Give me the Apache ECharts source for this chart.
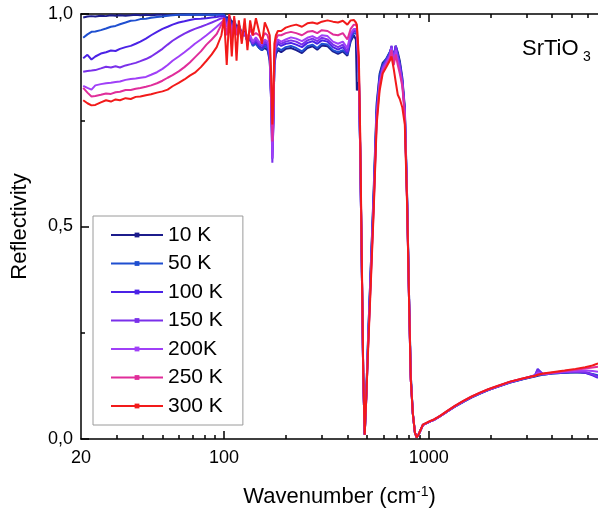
<!DOCTYPE html>
<html>
<head>
<meta charset="utf-8">
<script src="https://cdn.jsdelivr.net/npm/echarts@6/dist/echarts.min.js"></script>
<style>html,body{margin:0;padding:0;background:#fff}#chart{width:598px;height:515px}</style>
</head>
<body>
<div id="chart"></div>
<script>
// Wavenumber grid (cm^-1)
const wavenumber = [
  20.5, 21.5, 22.5, 23.5, 25, 26.5, 28, 29.5, 31, 33, 35, 37, 39, 41.5, 44, 47, 50, 53, 56, 60, 64, 68, 72, 77, 82, 87, 92, 97,
  100, 103, 106, 109, 112, 115, 118, 122, 126, 130, 134, 138, 143, 148, 153, 158, 163, 167, 170, 172, 174, 176, 179, 183,
  190, 200, 212, 225, 240, 255, 270, 285, 300, 320, 340, 360, 380, 400, 415, 430, 440,
  445, 455, 462, 470, 478, 486, 495, 505, 520, 538, 556, 575, 595, 620, 644, 657, 674, 689, 705, 721, 742, 763, 783, 800, 816, 835, 855, 872, 890,
  935, 1011, 1060, 1130, 1221, 1340, 1467, 1620, 1778, 1950, 2146, 2493, 2900, 3300, 3400, 3600, 4000, 4600, 5200, 5800, 6300, 6700
];

const seriesNames = ['10 K', '50 K', '100 K', '150 K', '200K', '250 K', '300 K'];

const refl10K = [
  0.992, 0.994, 0.995, 0.994, 0.996, 0.995, 0.997, 0.996, 0.997, 0.996, 0.997, 0.998, 0.997, 0.998, 0.997, 0.998, 0.998, 0.997, 0.998, 0.998, 0.999, 0.998, 0.999, 0.998, 0.999, 0.998, 0.999, 0.999,
  0.999, 0.99, 0.995, 0.98, 0.985, 0.97, 0.975, 0.955, 0.96, 0.94, 0.945, 0.93, 0.93, 0.92, 0.915, 0.92, 0.915, 0.89, 0.80, 0.70, 0.76, 0.88, 0.905, 0.915,
  0.910, 0.918, 0.920, 0.915, 0.908, 0.920, 0.924, 0.916, 0.926, 0.924, 0.912, 0.906, 0.912, 0.902, 0.935, 0.950, 0.940,
  0.82, 0.84, 0.68, 0.42, 0.15, 0.01, 0.11, 0.24, 0.40, 0.59, 0.79, 0.86, 0.885, 0.895, 0.91, 0.92, 0.90, 0.925, 0.91, 0.89, 0.85, 0.78, 0.57, 0.34, 0.15, 0.06, 0.015, 0.004, 0.01,
  0.033, 0.041, 0.045, 0.053, 0.064, 0.076, 0.087, 0.098, 0.107, 0.115, 0.122, 0.133, 0.141, 0.147, 0.149, 0.151, 0.154, 0.156, 0.157, 0.156, 0.152, 0.148
];
const refl50K = [
  0.944, 0.952, 0.958, 0.959, 0.962, 0.966, 0.970, 0.972, 0.976, 0.980, 0.984, 0.985, 0.988, 0.989, 0.991, 0.993, 0.994, 0.996, 0.997, 0.998, 0.998, 0.999, 0.998, 0.999, 0.998, 0.999, 0.998, 0.999,
  0.998, 0.985, 0.99, 0.975, 0.98, 0.965, 0.97, 0.95, 0.955, 0.935, 0.94, 0.925, 0.93, 0.92, 0.915, 0.925, 0.92, 0.895, 0.79, 0.68, 0.75, 0.885, 0.91, 0.92,
  0.915, 0.922, 0.925, 0.920, 0.912, 0.924, 0.928, 0.920, 0.930, 0.928, 0.915, 0.910, 0.915, 0.905, 0.940, 0.955, 0.955,
  0.95, 0.86, 0.68, 0.42, 0.15, 0.01, 0.11, 0.24, 0.40, 0.58, 0.78, 0.855, 0.88, 0.895, 0.91, 0.92, 0.895, 0.925, 0.905, 0.885, 0.845, 0.775, 0.57, 0.34, 0.15, 0.06, 0.015, 0.004, 0.01,
  0.033, 0.041, 0.045, 0.053, 0.064, 0.076, 0.087, 0.098, 0.107, 0.115, 0.122, 0.133, 0.141, 0.148, 0.150, 0.151, 0.154, 0.156, 0.157, 0.157, 0.153, 0.150
];
const refl100K = [
  0.896, 0.904, 0.893, 0.900, 0.907, 0.910, 0.914, 0.913, 0.918, 0.922, 0.925, 0.930, 0.935, 0.942, 0.950, 0.958, 0.965, 0.970, 0.975, 0.980, 0.983, 0.986, 0.988, 0.989, 0.990, 0.992, 0.993, 0.995,
  0.995, 0.98, 0.99, 0.97, 0.98, 0.96, 0.97, 0.95, 0.955, 0.935, 0.945, 0.93, 0.935, 0.925, 0.92, 0.93, 0.925, 0.90, 0.78, 0.66, 0.74, 0.89, 0.92, 0.93,
  0.925, 0.930, 0.932, 0.928, 0.922, 0.932, 0.936, 0.930, 0.938, 0.935, 0.922, 0.916, 0.922, 0.908, 0.946, 0.960, 0.960,
  0.955, 0.86, 0.68, 0.42, 0.15, 0.01, 0.10, 0.23, 0.39, 0.57, 0.77, 0.845, 0.875, 0.89, 0.905, 0.925, 0.89, 0.925, 0.90, 0.88, 0.84, 0.77, 0.56, 0.33, 0.14, 0.06, 0.015, 0.004, 0.01,
  0.033, 0.041, 0.045, 0.053, 0.064, 0.077, 0.088, 0.099, 0.108, 0.116, 0.123, 0.134, 0.142, 0.150, 0.165, 0.153, 0.155, 0.157, 0.158, 0.156, 0.150, 0.144
];
const refl150K = [
  0.864, 0.866, 0.867, 0.868, 0.872, 0.876, 0.874, 0.877, 0.874, 0.879, 0.882, 0.885, 0.889, 0.894, 0.900, 0.909, 0.918, 0.928, 0.937, 0.946, 0.954, 0.960, 0.965, 0.970, 0.975, 0.980, 0.985, 0.990,
  0.99, 0.975, 0.985, 0.965, 0.975, 0.955, 0.965, 0.945, 0.955, 0.935, 0.945, 0.93, 0.94, 0.93, 0.925, 0.935, 0.93, 0.905, 0.78, 0.65, 0.74, 0.895, 0.925, 0.935,
  0.930, 0.935, 0.938, 0.935, 0.928, 0.938, 0.942, 0.936, 0.944, 0.940, 0.928, 0.922, 0.928, 0.912, 0.950, 0.962, 0.962,
  0.955, 0.86, 0.68, 0.42, 0.15, 0.01, 0.10, 0.22, 0.38, 0.56, 0.76, 0.84, 0.875, 0.89, 0.905, 0.925, 0.89, 0.925, 0.90, 0.88, 0.84, 0.77, 0.56, 0.33, 0.14, 0.06, 0.015, 0.004, 0.01,
  0.033, 0.041, 0.045, 0.053, 0.064, 0.077, 0.088, 0.099, 0.108, 0.116, 0.123, 0.134, 0.142, 0.150, 0.162, 0.153, 0.155, 0.157, 0.158, 0.157, 0.152, 0.146
];
const refl200K = [
  0.831, 0.826, 0.822, 0.832, 0.835, 0.837, 0.838, 0.840, 0.841, 0.845, 0.847, 0.848, 0.850, 0.852, 0.857, 0.863, 0.871, 0.880, 0.890, 0.900, 0.910, 0.920, 0.930, 0.940, 0.950, 0.960, 0.970, 0.980,
  0.985, 0.97, 0.985, 0.96, 0.975, 0.955, 0.965, 0.95, 0.955, 0.94, 0.95, 0.935, 0.945, 0.935, 0.93, 0.94, 0.935, 0.91, 0.79, 0.66, 0.75, 0.90, 0.93, 0.94,
  0.935, 0.940, 0.945, 0.942, 0.936, 0.944, 0.948, 0.942, 0.950, 0.948, 0.935, 0.930, 0.935, 0.920, 0.955, 0.965, 0.965,
  0.96, 0.87, 0.69, 0.42, 0.15, 0.01, 0.10, 0.22, 0.38, 0.56, 0.76, 0.84, 0.87, 0.885, 0.90, 0.92, 0.885, 0.915, 0.89, 0.87, 0.835, 0.765, 0.56, 0.33, 0.14, 0.06, 0.015, 0.004, 0.01,
  0.033, 0.041, 0.045, 0.053, 0.064, 0.077, 0.088, 0.099, 0.108, 0.116, 0.123, 0.134, 0.142, 0.149, 0.156, 0.152, 0.155, 0.158, 0.160, 0.161, 0.160, 0.158
];
const refl250K = [
  0.826, 0.815, 0.806, 0.807, 0.810, 0.813, 0.812, 0.816, 0.817, 0.821, 0.821, 0.824, 0.826, 0.829, 0.832, 0.837, 0.843, 0.850, 0.856, 0.865, 0.875, 0.886, 0.898, 0.912, 0.928, 0.940, 0.953, 0.975,
  0.99, 0.95, 0.995, 0.94, 0.99, 0.95, 0.975, 0.95, 0.97, 0.94, 0.965, 0.95, 0.955, 0.95, 0.94, 0.955, 0.95, 0.93, 0.82, 0.70, 0.78, 0.91, 0.94, 0.95,
  0.950, 0.955, 0.958, 0.955, 0.950, 0.958, 0.960, 0.955, 0.962, 0.960, 0.952, 0.950, 0.955, 0.940, 0.965, 0.975, 0.975,
  0.97, 0.88, 0.70, 0.43, 0.15, 0.01, 0.10, 0.22, 0.37, 0.55, 0.75, 0.83, 0.865, 0.88, 0.895, 0.915, 0.88, 0.905, 0.88, 0.86, 0.83, 0.76, 0.555, 0.33, 0.14, 0.06, 0.015, 0.004, 0.01,
  0.033, 0.042, 0.046, 0.054, 0.065, 0.078, 0.089, 0.100, 0.109, 0.117, 0.124, 0.135, 0.143, 0.149, 0.151, 0.153, 0.156, 0.160, 0.163, 0.166, 0.168, 0.170
];
const refl300K = [
  0.797, 0.790, 0.785, 0.786, 0.792, 0.797, 0.794, 0.799, 0.797, 0.802, 0.800, 0.805, 0.806, 0.809, 0.811, 0.815, 0.818, 0.822, 0.830, 0.838, 0.846, 0.855, 0.862, 0.875, 0.890, 0.905, 0.922, 0.950,
  0.99, 0.88, 1.0, 0.90, 0.995, 0.89, 0.985, 0.93, 0.99, 0.915, 0.985, 0.95, 0.99, 0.96, 0.93, 0.98, 0.965, 0.95, 0.85, 0.74, 0.80, 0.93, 0.95, 0.96,
  0.960, 0.968, 0.972, 0.975, 0.970, 0.978, 0.980, 0.977, 0.982, 0.985, 0.982, 0.980, 0.984, 0.975, 0.985, 0.986, 0.980,
  0.975, 0.90, 0.72, 0.44, 0.16, 0.01, 0.10, 0.21, 0.36, 0.54, 0.74, 0.82, 0.86, 0.875, 0.89, 0.90, 0.87, 0.84, 0.81, 0.80, 0.78, 0.74, 0.55, 0.33, 0.14, 0.06, 0.015, 0.004, 0.01,
  0.034, 0.042, 0.046, 0.054, 0.065, 0.078, 0.089, 0.100, 0.109, 0.117, 0.124, 0.135, 0.143, 0.149, 0.151, 0.154, 0.157, 0.161, 0.165, 0.169, 0.173, 0.178
];

const reflectivity = [refl10K, refl50K, refl100K, refl150K, refl200K, refl250K, refl300K];
const seriesColors = ['#1c1c8c', '#1f4fd0', '#4b22e6', '#7a30ea', '#a040f8', '#e02d9a', '#f21a1a'];

// Axis ticks
const xMin = 20, xMax = 6700;
const xLabelValues = [20, 100, 1000];
const xMajorTicks = [100, 1000];
const xMinorTicks = [30, 40, 50, 60, 70, 80, 90, 200, 300, 400, 500, 600, 700, 800, 900, 2000, 3000, 4000, 5000, 6000];

const FONT = 'Liberation Sans, Arial, sans-serif';
const chart = echarts.init(document.getElementById('chart'), null, { renderer: 'canvas' });

const lg = v => Math.log10(v);
const tickAxisBase = (position, showLine) => ({
  type: 'value', position: position, min: lg(xMin), max: lg(xMax),
  axisLine: { show: showLine, lineStyle: { color: '#000', width: 1.5 } },
  splitLine: { show: false }
});

const option = {
  animation: false,
  backgroundColor: '#fff',
  grid: { left: 81, top: 14, right: 0, bottom: 76, containLabel: false },
  legend: {
    left: 93, top: 216, orient: 'vertical',
    padding: [8, 20, 8, 17],
    borderColor: '#9a9a9a', borderWidth: 1,
    itemWidth: 52, itemHeight: 6, itemGap: 6.5,
    textStyle: { fontFamily: FONT, fontSize: 21, color: '#000', lineHeight: 22 },
    data: seriesNames
  },
  xAxis: [
    {
      type: 'log', min: xMin, max: xMax, position: 'bottom',
      axisLine: { show: true, lineStyle: { color: '#000', width: 1.5 } },
      axisTick: { show: false }, axisLabel: { show: false }, splitLine: { show: false }, minorTick: { show: false }
    },
    Object.assign(tickAxisBase('bottom', false), {
      axisTick: { show: true, inside: true, length: 8, customValues: xMajorTicks.map(lg), lineStyle: { color: '#000', width: 1.5 } },
      axisLabel: {
        show: true, margin: 10, customValues: xLabelValues.map(lg),
        formatter: v => String(Math.round(Math.pow(10, v))),
        fontFamily: FONT, fontSize: 18, color: '#000'
      },
      name: '{a|Wavenumber (cm}{s|-1}{a|)}', nameLocation: 'middle', nameGap: 46,
      nameTextStyle: {
        rich: {
          a: { fontFamily: FONT, fontSize: 22, color: '#000' },
          s: { fontFamily: FONT, fontSize: 14, color: '#000', verticalAlign: 'top', padding: [0, 0, 10, 0] }
        }
      }
    }),
    Object.assign(tickAxisBase('bottom', false), {
      axisTick: { show: true, inside: true, length: 4, customValues: xMinorTicks.map(lg), lineStyle: { color: '#000', width: 1.5 } },
      axisLabel: { show: false }
    }),
    Object.assign(tickAxisBase('top', true), {
      axisTick: { show: true, inside: true, length: 8, customValues: xMajorTicks.map(lg), lineStyle: { color: '#000', width: 1.5 } },
      axisLabel: { show: false }
    }),
    Object.assign(tickAxisBase('top', false), {
      axisTick: { show: true, inside: true, length: 4, customValues: xMinorTicks.map(lg), lineStyle: { color: '#000', width: 1.5 } },
      axisLabel: { show: false }
    })
  ],
  yAxis: [{
    type: 'value', min: 0, max: 1, interval: 0.5, position: 'left',
    axisLine: { show: true, lineStyle: { color: '#000', width: 1.5 } },
    axisTick: { show: true, inside: true, length: 8, lineStyle: { color: '#000', width: 1.5 } },
    minorTick: { show: true, splitNumber: 2, length: 4, lineStyle: { color: '#000', width: 1.5 } },
    axisLabel: { margin: 8, formatter: v => v.toFixed(1).replace('.', ','), fontFamily: FONT, fontSize: 18, color: '#000' },
    splitLine: { show: false },
    name: 'Reflectivity', nameLocation: 'middle', nameGap: 50,
    nameTextStyle: { fontFamily: FONT, fontSize: 22, color: '#000' }
  }],
  graphic: [
    { type: 'text', left: 522, top: 38, style: { text: 'SrTiO', fontFamily: FONT, fontSize: 22, fill: '#000' } },
    { type: 'text', left: 583, top: 50, style: { text: '3', fontFamily: FONT, fontSize: 14, fill: '#000' } }
  ],
  series: seriesNames.map((name, k) => ({
    name: name, type: 'line', xAxisIndex: 0, yAxisIndex: 0,
    data: wavenumber.map((w, i) => [w, reflectivity[k][i]]),
    showSymbol: false, symbol: 'rect', symbolSize: 5,
    color: seriesColors[k],
    lineStyle: { width: 2, color: seriesColors[k] },
    itemStyle: { color: seriesColors[k] },
    clip: true
  }))
};
chart.setOption(option);
</script>
</body>
</html>
